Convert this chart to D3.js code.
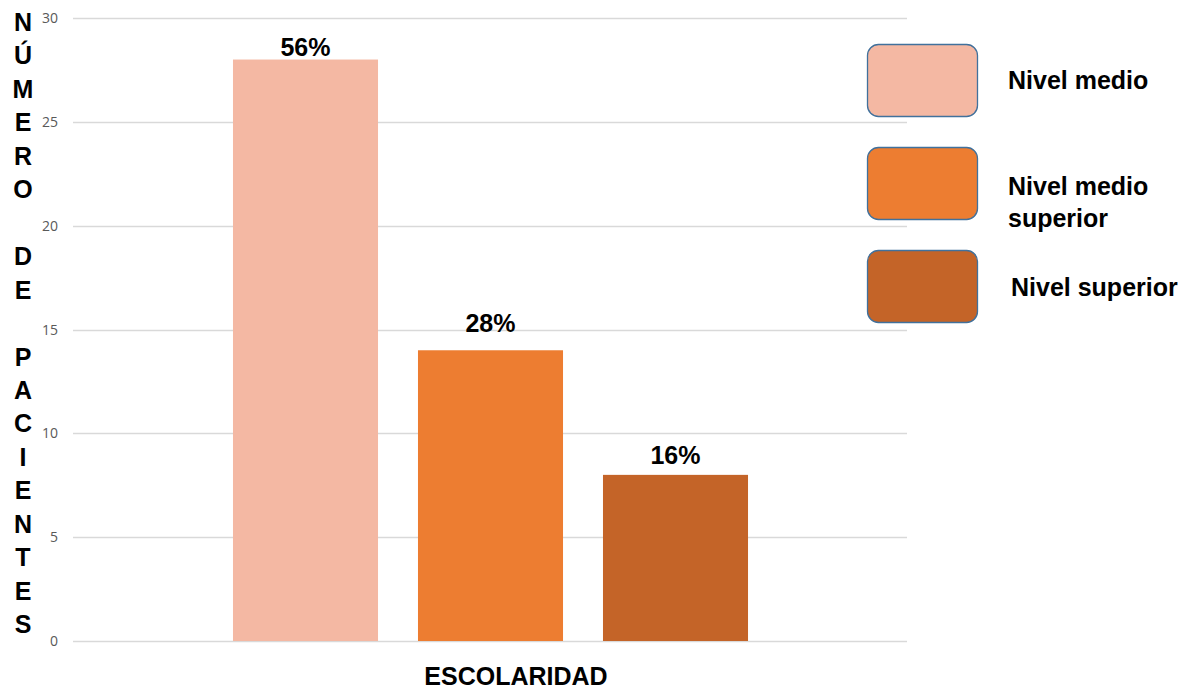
<!DOCTYPE html>
<html>
<head>
<meta charset="utf-8">
<script src="https://cdn.jsdelivr.net/npm/d3@7"></script>
<style>
  body { margin: 0; background: #fff; }
  svg { display: block; }
</style>
</head>
<body>
<div id="chart"></div>
<script>
// datos de la grafica
const categorias = ["Nivel medio", "Nivel medio superior", "Nivel superior"]
const pacientes = [28, 14, 8]
const porcentajes = ["56%", "28%", "16%"]
const colores = ["#F4B8A3", "#ED7D31", "#C46428"]
const ticksY = [0, 5, 10, 15, 20, 25, 30]
const leyenda = [["Nivel medio"], ["Nivel medio", "superior"], ["Nivel superior"]]
const tituloY = "NÚMERO DE PACIENTES"
const tituloX = "ESCOLARIDAD"

const width = 1189, height = 691
const fuente = "'Liberation Sans', Arial, sans-serif"
const svg = d3.select("#chart").append("svg")
  .attr("width", width)
  .attr("height", height)

const y = d3.scaleLinear().domain([0, 30]).range([641, 18])
const x = d3.scaleBand().domain(categorias).range([213, 768])
  .paddingInner(0.216).paddingOuter(0.108)

// lineas de la cuadricula
svg.append("g").selectAll("line")
  .data(ticksY)
  .join("line")
  .attr("x1", 73).attr("x2", 907)
  .attr("y1", d => Math.round(y(d)) + 0.5)
  .attr("y2", d => Math.round(y(d)) + 0.5)
  .attr("stroke", "#d9d9d9")
  .attr("stroke-width", 1.3)

// etiquetas del eje y
svg.append("g").selectAll("text")
  .data(ticksY)
  .join("text")
  .attr("x", 58)
  .attr("y", d => y(d) + 5)
  .attr("text-anchor", "end")
  .attr("fill", "#595959")
  .style("font-family", "'Open Sans', sans-serif")
  .style("font-size", "14px")
  .text(d => d)

// barras
svg.append("g").selectAll("rect")
  .data(pacientes)
  .join("rect")
  .attr("x", (d, i) => x(categorias[i]))
  .attr("y", d => y(d))
  .attr("width", x.bandwidth())
  .attr("height", d => y(0) - y(d))
  .attr("fill", (d, i) => colores[i])

// porcentajes encima de las barras (la separacion no es igual en el original)
const separacion = [4, 18, 11]
svg.append("g").selectAll("text")
  .data(pacientes)
  .join("text")
  .attr("x", (d, i) => x(categorias[i]) + x.bandwidth() / 2)
  .attr("y", (d, i) => y(d) - separacion[i])
  .attr("text-anchor", "middle")
  .style("font-family", fuente)
  .style("font-weight", "bold")
  .style("font-size", "25px")
  .text((d, i) => porcentajes[i])

// titulo vertical, una letra por linea
const letras = tituloY.split("")
svg.append("g").selectAll("text")
  .data(letras)
  .join("text")
  .attr("x", 23)
  .attr("y", (d, i) => 31 + i * 33.45)
  .attr("text-anchor", "middle")
  .style("font-family", fuente)
  .style("font-weight", "bold")
  .style("font-size", "25px")
  .text(d => d)

// titulo eje x
svg.append("text")
  .attr("x", 516)
  .attr("y", 685)
  .attr("text-anchor", "middle")
  .style("font-family", fuente)
  .style("font-weight", "bold")
  .style("font-size", "25px")
  .text(tituloX)

// leyenda
const leyTop = [44, 147, 250]
const leyTexto = [[89], [195, 227], [296]]
const ley = svg.append("g")
ley.selectAll("rect")
  .data(colores)
  .join("rect")
  .attr("x", 867.5)
  .attr("y", (d, i) => leyTop[i] + 0.5)
  .attr("width", 110)
  .attr("height", 72)
  .attr("rx", 11)
  .attr("fill", d => d)
  .attr("stroke", "#41719C")
  .attr("stroke-width", 1.3)

leyenda.forEach((lineas, i) => {
  const tx = i == 2 ? 1011 : 1008
  const t = ley.append("text")
    .style("font-family", fuente)
    .style("font-weight", "bold")
    .style("font-size", "25px")
  lineas.forEach((l, j) => {
    t.append("tspan")
      .attr("x", tx)
      .attr("y", leyTexto[i][j])
      .text(l)
  })
})
</script>
</body>
</html>
